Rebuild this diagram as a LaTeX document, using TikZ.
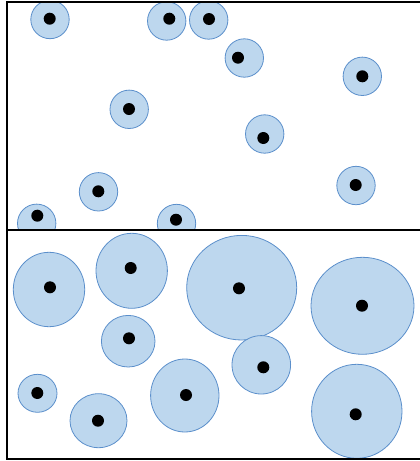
\documentclass[tikz,border=0pt]{standalone}
\definecolor{cellfill}{HTML}{BDD7EE}
\definecolor{cellline}{HTML}{5B8FCB}

\begin{document}
\begin{tikzpicture}[x=1pt,y=-1pt,
    cell/.style={fill=cellfill,draw=cellline,line width=0.8pt},
    nucleus/.style={fill=black},
    frame/.style={line width=2pt}]
    \useasboundingbox (0,0) rectangle (420,461);

    % top panel: small cells
    \begin{scope}
        \clip (7,2) rectangle (420,230);
        \foreach \cx/\cy/\nx/\ny in {50/19.5/49.7/18.7, 166.7/21/169.3/18.7,
            208.7/20/209/19, 244.3/58/238/57.7, 362.3/76.3/362.3/76.3,
            129.2/109.3/129/109, 264.7/134/263.3/138, 98.5/191.8/98.3/191.3,
            356/185.5/355.7/185, 36.7/223.3/37.3/215.7, 176.5/223.5/176/219.7}
        {
            \draw[cell] (\cx,\cy) circle [radius=19.2];
            \fill[nucleus] (\nx,\ny) circle [radius=6];
        }
    \end{scope}

    % bottom panel: grown cells
    \foreach \cx/\cy/\rx/\ry/\nx/\ny in {49/289.5/35.7/37.2/50/287.3,
        131.7/270.8/35.7/37.5/130.7/268, 241.7/287.7/55/52.3/239/288.3,
        362.5/305.8/51.5/48.5/362/305.7, 128.2/341.2/26.8/25.8/129/338.3,
        261.3/364.8/29.3/29.2/263.3/367.3, 37.5/393.3/19.5/19/37.3/393,
        98.5/420.7/28.5/27/98/420.7, 184.8/395.5/34.2/36.5/186/395,
        356.8/411.3/45.2/47/355.7/414.3}
    {
        \draw[cell] (\cx,\cy) ellipse [x radius=\rx, y radius=\ry];
        \fill[nucleus] (\nx,\ny) circle [radius=6];
    }

    \draw[frame] (420,2) -- (6.7,2) -- (6.7,459.3) -- (420,459.3);
    \draw[frame] (6.7,230) -- (420,230);
\end{tikzpicture}
\end{document}
